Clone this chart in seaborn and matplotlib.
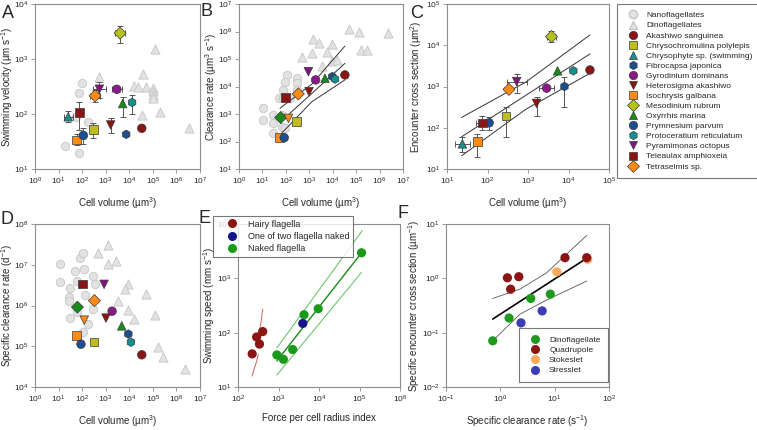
import numpy as np
import pandas as pd
import matplotlib
matplotlib.use("Agg")
import matplotlib.pyplot as plt
from matplotlib.lines import Line2D
import seaborn as sns

nan = np.nan

# ---- species legend (panels A-D) ----
species = ["Akashiwo sanguinea", "Chrysochromulina polylepis", "Chrysophyte sp. (swimming)",
           "Fibrocapsa japonica", "Gyrodinium dominans", "Heterosigma akashiwo",
           "Isochrysis galbana", "Mesodinium rubrum", "Oxyrrhis marina", "Prymnesium parvum",
           "Protoceratium reticulatum", "Pyramimonas octopus", "Teleaulax amphioxeia",
           "Tetraselmis sp.", "unlabelled diamond", "unlabelled triangle"]
species_colors = ["#8b1414", "#bdbd1f", "#178f8f", "#1b4f8f", "#8b198b", "#8b1414",
                  "#ff8a14", "#b5c21c", "#1a8a1a", "#1b4f8f", "#178f8f", "#7f147f",
                  "#8b1414", "#ff8a14", "#1a8a1a", "#ff8a14"]
species_markers = ["o", "s", "^", "h", "o", "v", "s", "D", "^", "o", "h", "v", "s", "D", "D", "v"]
n_legend = 14

# ---- panel A: swimming velocity vs cell volume (log10 values) ----
a_logvol = [4.53, 2.48, 1.41, 3.87, 3.47, 3.21, 1.77, 3.61, 3.72, 2.05, 4.12, 2.73, 1.88, 2.55, nan, nan]
a_logspeed = [1.74, 1.72, 1.95, 1.63, 2.45, 1.80, 1.53, 3.47, 2.19, 1.61, 2.21, 2.45, 2.03, 2.33, nan, nan]
a_vol_err = [nan, nan, 0.2, nan, 0.2, nan, nan, 0.2, nan, nan, nan, 0.28, nan, 0.2, nan, nan]
a_speed_lo = [nan, 1.56, 1.85, nan, 2.40, 1.65, 1.44, 3.30, 1.95, 1.46, 2.00, 2.30, 1.71, 2.22, nan, nan]
a_speed_hi = [nan, 1.84, 2.05, nan, 2.50, 1.92, 1.64, 3.60, 2.31, 1.74, 2.35, 2.58, 2.22, 2.43, nan, nan]
a_nano_logvol = [1.29, 1.88, 2.01, 1.88, 2.26, 1.74, 2.05]
a_nano_logspeed = [1.42, 1.30, 2.56, 2.39, 1.86, 1.94, 1.62]
a_dino_logvol = [2.73, 4.60, 4.20, 4.39, 4.70, 5.02, 5.02, 5.02, 5.02, 5.10, 5.30, 4.53, 6.53]
a_dino_logspeed = [2.67, 2.73, 2.51, 2.50, 2.49, 2.47, 2.41, 2.35, 2.29, 3.19, 2.03, 1.99, 1.75]

# ---- panel B: clearance rate vs cell volume ----
b_logvol = [4.52, 2.46, nan, 3.98, 3.27, 2.99, 1.72, nan, 3.67, 1.93, 4.10, 2.96, 1.99, 2.53, 1.78, 2.11]
b_logclear = [4.42, 2.72, nan, 4.36, 4.24, 3.81, 2.15, nan, 4.30, 2.14, 4.27, 4.54, 3.61, 3.73, 2.87, 2.84]
b_nano_logvol = [1.04, 1.04, 1.46, 1.46, 1.46, 1.82, 1.82, 2.03, 1.96, 2.46, 2.46, 1.72, 1.89, 2.18, 2.46, 1.96, 1.89]
b_nano_logclear = [3.21, 2.78, 2.96, 2.66, 2.30, 2.96, 2.52, 4.42, 4.18, 4.30, 4.12, 3.57, 3.57, 3.57, 3.87, 2.48, 3.87]
b_dino_logvol = [4.69, 5.14, 3.14, 3.43, 3.96, 3.13, 3.74, 2.68, 3.96, 4.17, 3.53, 5.21, 5.45, 6.37]
b_dino_logclear = [6.09, 5.97, 5.72, 5.57, 5.55, 5.23, 5.27, 5.06, 4.94, 4.96, 4.76, 5.33, 5.33, 5.93]
b_fit_logvol = [1.78, 4.52]
b_fit_logclear = [2.72, 4.84]
b_upper_logvol = [1.75, 3.10, 4.52]
b_upper_logclear = [3.21, 4.08, 5.47]
b_lower_logvol = [1.82, 3.10, 4.52]
b_lower_logclear = [2.30, 3.44, 4.24]

# ---- panel C: encounter cross section vs cell volume ----
c_logvol = [4.53, 2.46, 1.38, 3.90, 3.46, 3.21, 1.75, 3.58, 3.73, 2.04, 4.12, 2.72, 1.87, 2.53, nan, nan]
c_logcross = [3.40, 2.28, 1.61, 3.00, 2.96, 2.59, 1.66, 4.21, 3.38, 2.12, 3.38, 3.12, 2.12, 2.93, nan, nan]
c_vol_err = [nan, nan, 0.19, nan, 0.19, nan, nan, 0.12, nan, nan, nan, 0.25, 0.15, nan, nan, nan]
c_cross_lo = [nan, 1.78, 1.42, 2.50, nan, 2.28, 1.30, 4.08, nan, 1.95, nan, 2.84, 1.94, nan, nan, nan]
c_cross_hi = [nan, 2.51, 1.77, 3.22, nan, 2.75, 1.86, 4.34, nan, 2.25, nan, 3.30, 2.28, nan, nan, nan]
c_fit_logvol = [1.36, 4.53]
c_fit_logcross = [1.78, 3.79]
c_upper_logvol = [1.36, 2.95, 4.53]
c_upper_logcross = [2.25, 3.11, 4.25]
c_lower_logvol = [1.36, 2.95, 4.53]
c_lower_logcross = [1.32, 2.45, 3.32]

# ---- panel D: specific clearance rate vs cell volume ----
d_logvol = [4.53, 2.50, nan, 3.96, 3.27, 3.01, 1.77, nan, 3.68, 1.95, 4.07, 2.93, 2.01, 2.52, 1.80, 2.09]
d_logspec = [4.79, 5.10, nan, 5.30, 5.86, 5.69, 5.27, nan, 5.50, 5.05, 5.10, 6.52, 6.53, 6.12, 5.96, 5.64]
d_nano_logvol = [1.06, 1.06, 1.91, 2.05, 1.70, 2.08, 1.77, 2.47, 2.55, 1.48, 1.46, 1.46, 2.12, 1.77, 2.47, 1.48, 2.26, 2.05]
d_nano_logspec = [7.02, 6.58, 7.17, 7.28, 6.84, 6.89, 6.59, 6.73, 6.52, 6.42, 6.22, 6.12, 6.25, 5.84, 5.92, 5.69, 5.55, 5.36]
d_dino_logvol = [3.11, 2.69, 3.11, 3.44, 3.95, 3.80, 4.70, 3.53, 3.96, 5.10, 4.20, 5.22, 5.44, 6.35]
d_dino_logspec = [7.48, 7.29, 7.03, 7.10, 6.53, 6.41, 6.28, 6.10, 5.88, 5.77, 5.66, 4.99, 4.74, 4.44]

# ---- panel E: swimming speed vs force per cell radius ----
e_groups = ["Hairy flagella", "One of two flagella naked", "Naked flagella"]
e_colors = ["#8b1414", "#14148b", "#1a9a1a"]
e_hairy_logforce = [2.35, 2.46, 2.53, 2.61]
e_hairy_logspeed = [1.61, 1.92, 1.79, 2.02]
e_onenaked_logforce = [3.60]
e_onenaked_logspeed = [2.17]
e_naked_logforce = [2.96, 3.12, 3.35, 3.63, 3.98, 5.05]
e_naked_logspeed = [1.59, 1.51, 1.69, 2.33, 2.44, 3.47]
e_fit_logforce = [2.96, 5.05]
e_fit_logspeed = [1.48, 3.47]
e_upper_logforce = [2.96, 5.07]
e_upper_logspeed = [1.72, 3.88]
e_lower_logforce = [2.96, 5.05]
e_lower_logspeed = [1.22, 3.11]
e_hairy_up_logforce = [2.46, 2.53, 2.57, 2.59, 2.61]
e_hairy_up_logspeed = [1.94, 2.05, 2.20, 2.33, 2.43]
e_hairy_lo_logforce = [2.50, 2.46, 2.40, 2.35]
e_hairy_lo_logspeed = [1.60, 1.47, 1.34, 1.20]

# ---- panel F: specific encounter cross section vs specific clearance ----
f_groups = ["Dinoflagellate", "Quadrupole", "Stokeslet", "Stresslet"]
f_colors = ["#1f9a1f", "#8b1414", "#ffaa5a", "#3c3cb4"]
f_group = ["Stokeslet", "Stokeslet", "Dinoflagellate", "Dinoflagellate", "Dinoflagellate", "Dinoflagellate",
           "Quadrupole", "Quadrupole", "Quadrupole", "Quadrupole", "Quadrupole", "Stresslet", "Stresslet"]
f_logclear = [1.04, 1.61, -0.14, 0.16, 0.56, 0.92, 0.13, 0.34, 0.19, 1.19, 1.59, 0.38, 0.77]
f_logcross = [0.12, 0.35, -1.15, -0.73, -0.37, -0.29, 0.01, 0.03, -0.20, 0.38, 0.38, -0.82, -0.60]
f_fit_logclear = [-0.14, 1.59]
f_fit_logcross = [-0.75, 0.37]
f_upper_logclear = [-0.14, 0.36, 0.85, 1.59]
f_upper_logcross = [-0.37, -0.20, 0.10, 0.79]
f_lower_logclear = [-0.14, 0.36, 0.85, 1.59]
f_lower_logcross = [-1.15, -0.66, -0.40, -0.05]

# ---------------------------------------------------------------
sns.set_theme(style="white")
plt.rcParams["font.family"] = ["Liberation Sans", "DejaVu Sans"]
plt.rcParams["mathtext.fontset"] = "custom"
plt.rcParams["mathtext.rm"] = "Liberation Sans"
plt.rcParams["mathtext.it"] = "Liberation Sans:italic"
plt.rcParams["mathtext.bf"] = "Liberation Sans:bold"
plt.rcParams["mathtext.default"] = "regular"

W, H = 757, 430
fig = plt.figure(figsize=(W / 100, H / 100), dpi=100)
spine_col = "#8c8c8c"
edge_col = "#3a3a3a"
gray_face, gray_edge = "#e2e2e2", "#c6c6c6"


def p10(v):
    return np.power(10.0, np.asarray(v, dtype=float))


def make_axes(x0, x1, y0, y1, xdec, ydec):
    ax = fig.add_axes([x0 / W, 1 - y1 / H, (x1 - x0) / W, (y1 - y0) / H])
    ax.set_xscale("log")
    ax.set_yscale("log")
    ax.set_xlim(10.0 ** xdec[0], 10.0 ** xdec[1])
    ax.set_ylim(10.0 ** ydec[0], 10.0 ** ydec[1])
    ax.set_xticks([10.0 ** k for k in range(xdec[0], xdec[1] + 1)])
    ax.set_yticks([10.0 ** k for k in range(ydec[0], ydec[1] + 1)])
    ax.minorticks_off()
    for s in ax.spines.values():
        s.set_color(spine_col)
        s.set_linewidth(0.8)
    ax.tick_params(which="major", direction="out", length=3, width=0.6, color=spine_col,
                   labelsize=6, pad=1.5, bottom=True, left=True)
    ax.set_facecolor("white")
    return ax


def set_labels(ax, xlabel, ylabel, x0, x1, y0, y1, xlab_y, ylab_x):
    ax.set_xlabel(xlabel, fontsize=7)
    ax.set_ylabel(ylabel, fontsize=7)
    ax.xaxis.label.set_verticalalignment("center")
    ax.yaxis.label.set_verticalalignment("center")
    ax.xaxis.set_label_coords(0.5, (y1 - xlab_y) / (y1 - y0))
    ax.yaxis.set_label_coords((ylab_x - x0) / (x1 - x0), 0.5)


def draw_gray(ax, nx, ny, dx, dy):
    sns.scatterplot(x=p10(nx), y=p10(ny), marker="o", color=gray_face, edgecolor=gray_edge,
                    s=36, linewidth=0.6, ax=ax, zorder=2, legend=False)
    sns.scatterplot(x=p10(dx), y=p10(dy), marker="^", color=gray_face, edgecolor=gray_edge,
                    s=44, linewidth=0.6, ax=ax, zorder=2, legend=False)


def draw_species(ax, lx, ly, xerr=None, ylo=None, yhi=None):
    df = pd.DataFrame({"species": species, "x": p10(lx), "y": p10(ly)})
    if xerr is not None:
        df["xlo"] = p10(np.array(lx) - np.array(xerr))
        df["xhi"] = p10(np.array(lx) + np.array(xerr))
        df["ylo"] = p10(ylo)
        df["yhi"] = p10(yhi)
        for _, r in df.iterrows():
            if np.isnan(r["x"]):
                continue
            xe = None if np.isnan(r["xlo"]) else [[r["x"] - r["xlo"]], [r["xhi"] - r["x"]]]
            ye = None if np.isnan(r["ylo"]) else [[r["y"] - r["ylo"]], [r["yhi"] - r["y"]]]
            if xe is None and ye is None:
                continue
            ax.errorbar(r["x"], r["y"], xerr=xe, yerr=ye, fmt="none", ecolor="#555555",
                        elinewidth=0.7, capsize=2, capthick=0.7, zorder=3)
    df = df.dropna(subset=["x", "y"])
    sns.scatterplot(data=df, x="x", y="y", hue="species", style="species",
                    palette=dict(zip(species, species_colors)),
                    markers=dict(zip(species, species_markers)),
                    s=38, edgecolor=edge_col, linewidth=0.5, ax=ax, zorder=4, legend=False)


def draw_line(ax, lx, ly, color="#333333", lw=0.7):
    sns.lineplot(x=p10(lx), y=p10(ly), color=color, linewidth=lw, ax=ax, zorder=3,
                 estimator=None, sort=False)


# ---- A ----
axA = make_axes(35, 200, 4, 169, (0, 7), (1, 4))
draw_gray(axA, a_nano_logvol, a_nano_logspeed, a_dino_logvol, a_dino_logspeed)
draw_species(axA, a_logvol, a_logspeed, a_vol_err, a_speed_lo, a_speed_hi)
set_labels(axA, "Cell volume (µm$^{3}$)", "Swimming velocity (µm s$^{-1}$)", 35, 200, 4, 169, 203, 7)

# ---- B ----
axB = make_axes(239, 403, 4, 169, (0, 7), (1, 7))
draw_gray(axB, b_nano_logvol, b_nano_logclear, b_dino_logvol, b_dino_logclear)
draw_line(axB, b_fit_logvol, b_fit_logclear)
draw_line(axB, b_upper_logvol, b_upper_logclear)
draw_line(axB, b_lower_logvol, b_lower_logclear)
draw_species(axB, b_logvol, b_logclear)
set_labels(axB, "Cell volume (µm$^{3}$)", "Clearance rate (µm$^{3}$ s$^{-1}$)", 239, 403, 4, 169, 203, 211)

# ---- C ----
axC = make_axes(447, 609, 4, 169, (1, 5), (1, 5))
draw_line(axC, c_fit_logvol, c_fit_logcross)
draw_line(axC, c_upper_logvol, c_upper_logcross)
draw_line(axC, c_lower_logvol, c_lower_logcross)
draw_species(axC, c_logvol, c_logcross, c_vol_err, c_cross_lo, c_cross_hi)
set_labels(axC, "Cell volume (µm$^{3}$)", "Encounter cross section (µm$^{2}$)", 447, 609, 4, 169, 203, 416)

# ---- D ----
axD = make_axes(35, 200, 224, 387, (0, 7), (4, 8))
draw_gray(axD, d_nano_logvol, d_nano_logspec, d_dino_logvol, d_dino_logspec)
draw_species(axD, d_logvol, d_logspec)
set_labels(axD, "Cell volume (µm$^{3}$)", "Specific clearance rate (d$^{-1}$)", 35, 200, 224, 387, 421, 7)

# ---- E ----
axE = make_axes(238, 400, 224, 387, (2, 6), (1, 4))
draw_line(axE, e_upper_logforce, e_upper_logspeed, "#5cc05c", 0.7)
draw_line(axE, e_lower_logforce, e_lower_logspeed, "#5cc05c", 0.7)
draw_line(axE, e_fit_logforce, e_fit_logspeed, "#1a8a1a", 1.0)
draw_line(axE, e_hairy_up_logforce, e_hairy_up_logspeed, "#d06060", 0.7)
draw_line(axE, e_hairy_lo_logforce, e_hairy_lo_logspeed, "#d06060", 0.7)
e_df = pd.DataFrame({
    "group": [e_groups[0]] * len(e_hairy_logforce) + [e_groups[1]] * len(e_onenaked_logforce)
    + [e_groups[2]] * len(e_naked_logforce),
    "force": p10(e_hairy_logforce + e_onenaked_logforce + e_naked_logforce),
    "speed": p10(e_hairy_logspeed + e_onenaked_logspeed + e_naked_logspeed),
})
sns.scatterplot(data=e_df, x="force", y="speed", hue="group", palette=dict(zip(e_groups, e_colors)),
                s=44, linewidth=0, ax=axE, zorder=4, legend=False)
set_labels(axE, "Force per cell radius index", "Swimming speed (mm s$^{-1}$)", 238, 400, 224, 387, 418, 209)

# ---- F ----
axF = make_axes(446, 609, 224, 387, (-1, 2), (-2, 1))
draw_line(axF, f_upper_logclear, f_upper_logcross, "#555555", 0.6)
draw_line(axF, f_lower_logclear, f_lower_logcross, "#555555", 0.6)
draw_line(axF, f_fit_logclear, f_fit_logcross, "#000000", 1.2)
f_df = pd.DataFrame({"group": f_group, "clear": p10(f_logclear), "cross": p10(f_logcross)})
sns.scatterplot(data=f_df, x="clear", y="cross", hue="group", palette=dict(zip(f_groups, f_colors)),
                s=44, linewidth=0, ax=axF, zorder=4, legend=False)
set_labels(axF, "Specific clearance rate (s$^{-1}$)", "Specific encounter cross section (µm$^{-1}$)",
           446, 609, 224, 387, 421, 414)

# ---- panel letters ----
for letter, (px, py) in zip("ABCDEF", [(8, 13), (207, 12), (417, 13), (7, 219), (205, 218), (403, 213)]):
    fig.text(px / W, 1 - py / H, letter, fontsize=13, ha="center", va="center")

# ---- legends ----
handles = [Line2D([], [], ls="", marker="o", markersize=6, markerfacecolor=gray_face, markeredgecolor=gray_edge),
           Line2D([], [], ls="", marker="^", markersize=6, markerfacecolor=gray_face, markeredgecolor=gray_edge)]
for c, m in zip(species_colors[:n_legend], species_markers[:n_legend]):
    handles.append(Line2D([], [], ls="", marker=m, markersize=6, markerfacecolor=c,
                          markeredgecolor=edge_col, markeredgewidth=0.5))
labels = ["Nanoflagellates", "Dinoflagellates"] + species[:n_legend]
leg = fig.legend(handles, labels, loc="upper left", bbox_to_anchor=(617 / W, 1 - 4 / H),
                 fontsize=6, frameon=True, fancybox=False, edgecolor="#555555", borderaxespad=0,
                 borderpad=0.9, labelspacing=0.27, handlelength=2.0, handletextpad=0.6)
leg.get_frame().set_linewidth(0.8)

e_handles = [Line2D([], [], ls="", marker="o", markersize=6.5, markerfacecolor=c, markeredgewidth=0) for c in e_colors]
leg_e = fig.legend(e_handles, e_groups, loc="upper left", bbox_to_anchor=(213 / W, 1 - 216 / H),
                   fontsize=6.5, frameon=True, fancybox=False, edgecolor="#555555", borderaxespad=0,
                   borderpad=0.4, labelspacing=0.35, handlelength=3.4, handletextpad=0.05)
leg_e.get_frame().set_linewidth(0.8)

f_handles = [Line2D([], [], ls="", marker="o", markersize=6.5, markerfacecolor=c, markeredgewidth=0) for c in f_colors]
leg_f = fig.legend(f_handles, f_groups, loc="lower right", bbox_to_anchor=(608 / W, 1 - 382 / H),
                   fontsize=6, frameon=True, fancybox=False, edgecolor="#555555", borderaxespad=0,
                   borderpad=0.9, labelspacing=0.29, handlelength=2.0, handletextpad=0.66)
leg_f.get_frame().set_linewidth(0.8)

fig.savefig("out.png", dpi=100)
